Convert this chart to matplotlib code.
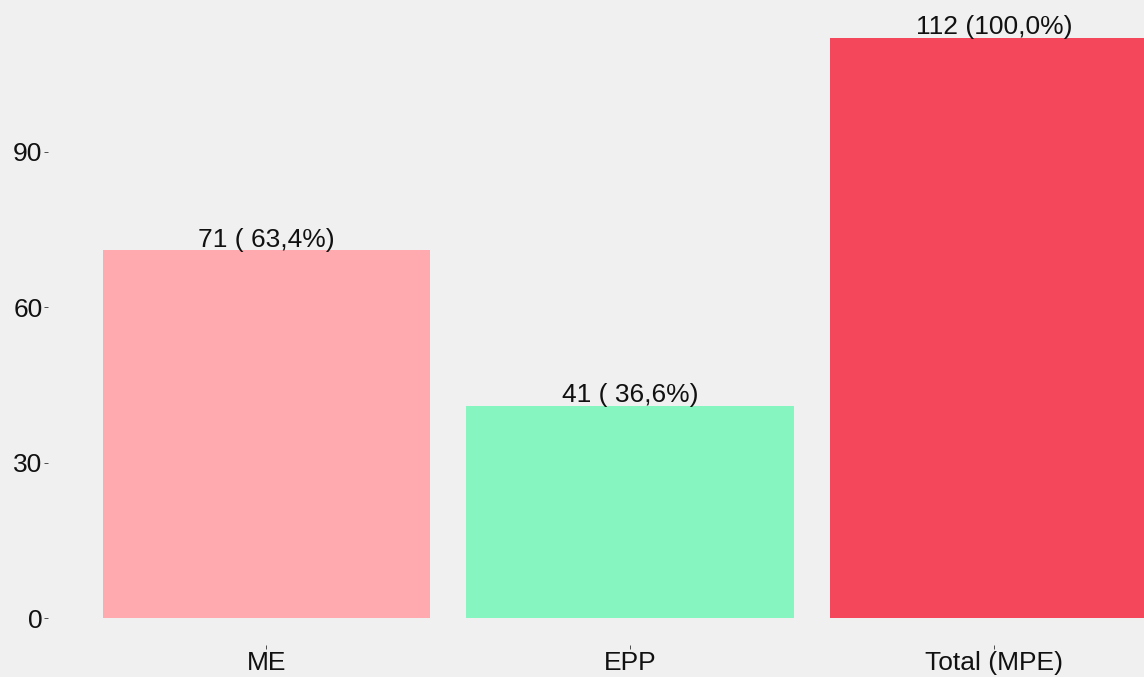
import numpy as np
import matplotlib.pyplot as plt

plt.rcParams['font.family'] = ['Liberation Sans', 'DejaVu Sans']

categories = ['ME', 'EPP', 'Total (MPE)']
counts = [71, 41, 112]
pcts = [' 63,4', ' 36,6', '100,0']
colors = ['#FFAAAE', '#86F5BF', '#F5475C']
yticks = [0, 30, 60, 90]

bg = '#F0F0F0'
fig = plt.figure(figsize=(11.44, 6.77), dpi=100, facecolor=bg)
# axes start right of y labels, bottom just above x labels, right side runs off figure
left = 48
ax = fig.add_axes([left / 1144, 32 / 677, 1 - left / 1144, 645 / 677])
ax.set_facecolor(bg)

x = np.arange(1, len(categories) + 1)
ax.bar(x, counts, width=0.9, color=colors)
for xi, c, p in zip(x, counts, pcts):
    ax.text(xi, c - 0.3, '%d (%s%%)' % (c, p), ha='center', va='bottom',
            fontsize=19, color='#111111')

ax.set_xlim(0.4, 1 + (1144 - 266) / 364)
ax.set_ylim(-27 / 5.18, 618 / 5.18)

ax.set_yticks(yticks)
ax.set_yticklabels([str(v) for v in yticks])
ax.set_xticks(x)
ax.set_xticklabels(categories)
ax.tick_params(axis='both', labelsize=19, colors='#333333', labelcolor='#111111',
               length=3, width=0.6, pad=1)
for s in ax.spines.values():
    s.set_visible(False)

fig.savefig('out.png', dpi=100, facecolor=bg)
